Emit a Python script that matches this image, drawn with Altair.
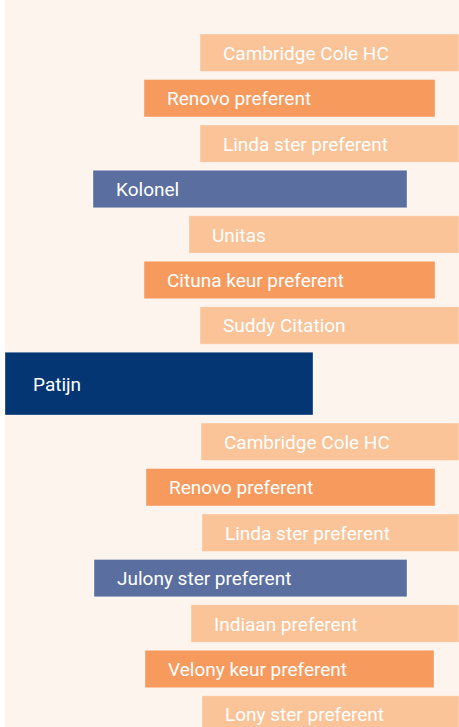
import altair as alt
import pandas as pd

# ---- data ----
labels = [
    "Cambridge Cole HC", "Renovo preferent", "Linda ster preferent", "Kolonel",
    "Unitas", "Cituna keur preferent", "Suddy Citation", "Patijn",
    "Cambridge Cole HC", "Renovo preferent", "Linda ster preferent",
    "Julony ster preferent", "Indiaan preferent", "Velony keur preferent",
    "Lony ster preferent",
]
starts = [195, 139, 195, 88, 184, 139, 195, 0, 196, 141, 197, 89, 186, 140, 197]
ends = [454, 430, 454, 402, 454, 430, 454, 308, 454, 430, 454, 402, 454, 429, 454]
groups = ["licht", "midden", "licht", "blauw", "licht", "midden", "licht", "donker",
          "licht", "midden", "licht", "blauw", "licht", "midden", "licht"]
row_weights = [1, 1, 1, 1, 1, 1, 1, 1.56, 1, 1, 1, 1, 1, 1, 1]

group_domain = ["licht", "midden", "blauw", "donker"]
group_colors = ["#FBC398", "#F79A5E", "#5A6FA0", "#033673"]

# ---- build table ----
pad = 0.088
rows = []
top = 0.0
for i, lab in enumerate(labels):
    w = row_weights[i]
    rows.append({
        "order": i,
        "label": lab,
        "start": starts[i],
        "end": ends[i],
        "group": groups[i],
        "y0": top + pad,
        "y1": top + w - pad,
        "yc": top + w / 2,
        "tall": w > 1,
    })
    top += w
df = pd.DataFrame(rows)

W, H = 454, 727
ymin = -0.66
ymax = ymin + H / 45.45

xscale = alt.Scale(domain=[0, 454], nice=False, zero=False)
yscale = alt.Scale(domain=[ymin, ymax], nice=False, zero=False, reverse=True)

base = alt.Chart(df)

bars = base.mark_rect(
    clip=True, stroke="#ffffff", strokeOpacity=0.35, strokeWidth=1
).encode(
    x=alt.X("start:Q", scale=xscale, axis=None),
    x2="end:Q",
    y=alt.Y("y0:Q", scale=yscale, axis=None),
    y2="y1:Q",
    color=alt.Color("group:N", scale=alt.Scale(domain=group_domain, range=group_colors), legend=None),
)

text_kw = dict(
    align="left", baseline="middle", color="white",
    font="Roboto", fontSize=19, clip=True, dy=1,
)

labels_regular = base.transform_filter("!datum.tall").mark_text(dx=23, **text_kw).encode(
    x=alt.X("start:Q", scale=xscale, axis=None),
    y=alt.Y("yc:Q", scale=yscale, axis=None),
    text="label:N",
)
labels_tall = base.transform_filter("datum.tall").mark_text(dx=28, **text_kw).encode(
    x=alt.X("start:Q", scale=xscale, axis=None),
    y=alt.Y("yc:Q", scale=yscale, axis=None),
    text="label:N",
)

chart = alt.layer(bars, labels_regular, labels_tall).properties(
    width=W, height=H,
    autosize=alt.AutoSizeParams(type="none"),
    padding={"left": 5, "top": 0, "right": 0, "bottom": 0},
    background="white",
).configure_view(stroke=None, fill="#FDF4EE")

chart.save("out.html", embed_options={"renderer": "svg", "actions": False})
